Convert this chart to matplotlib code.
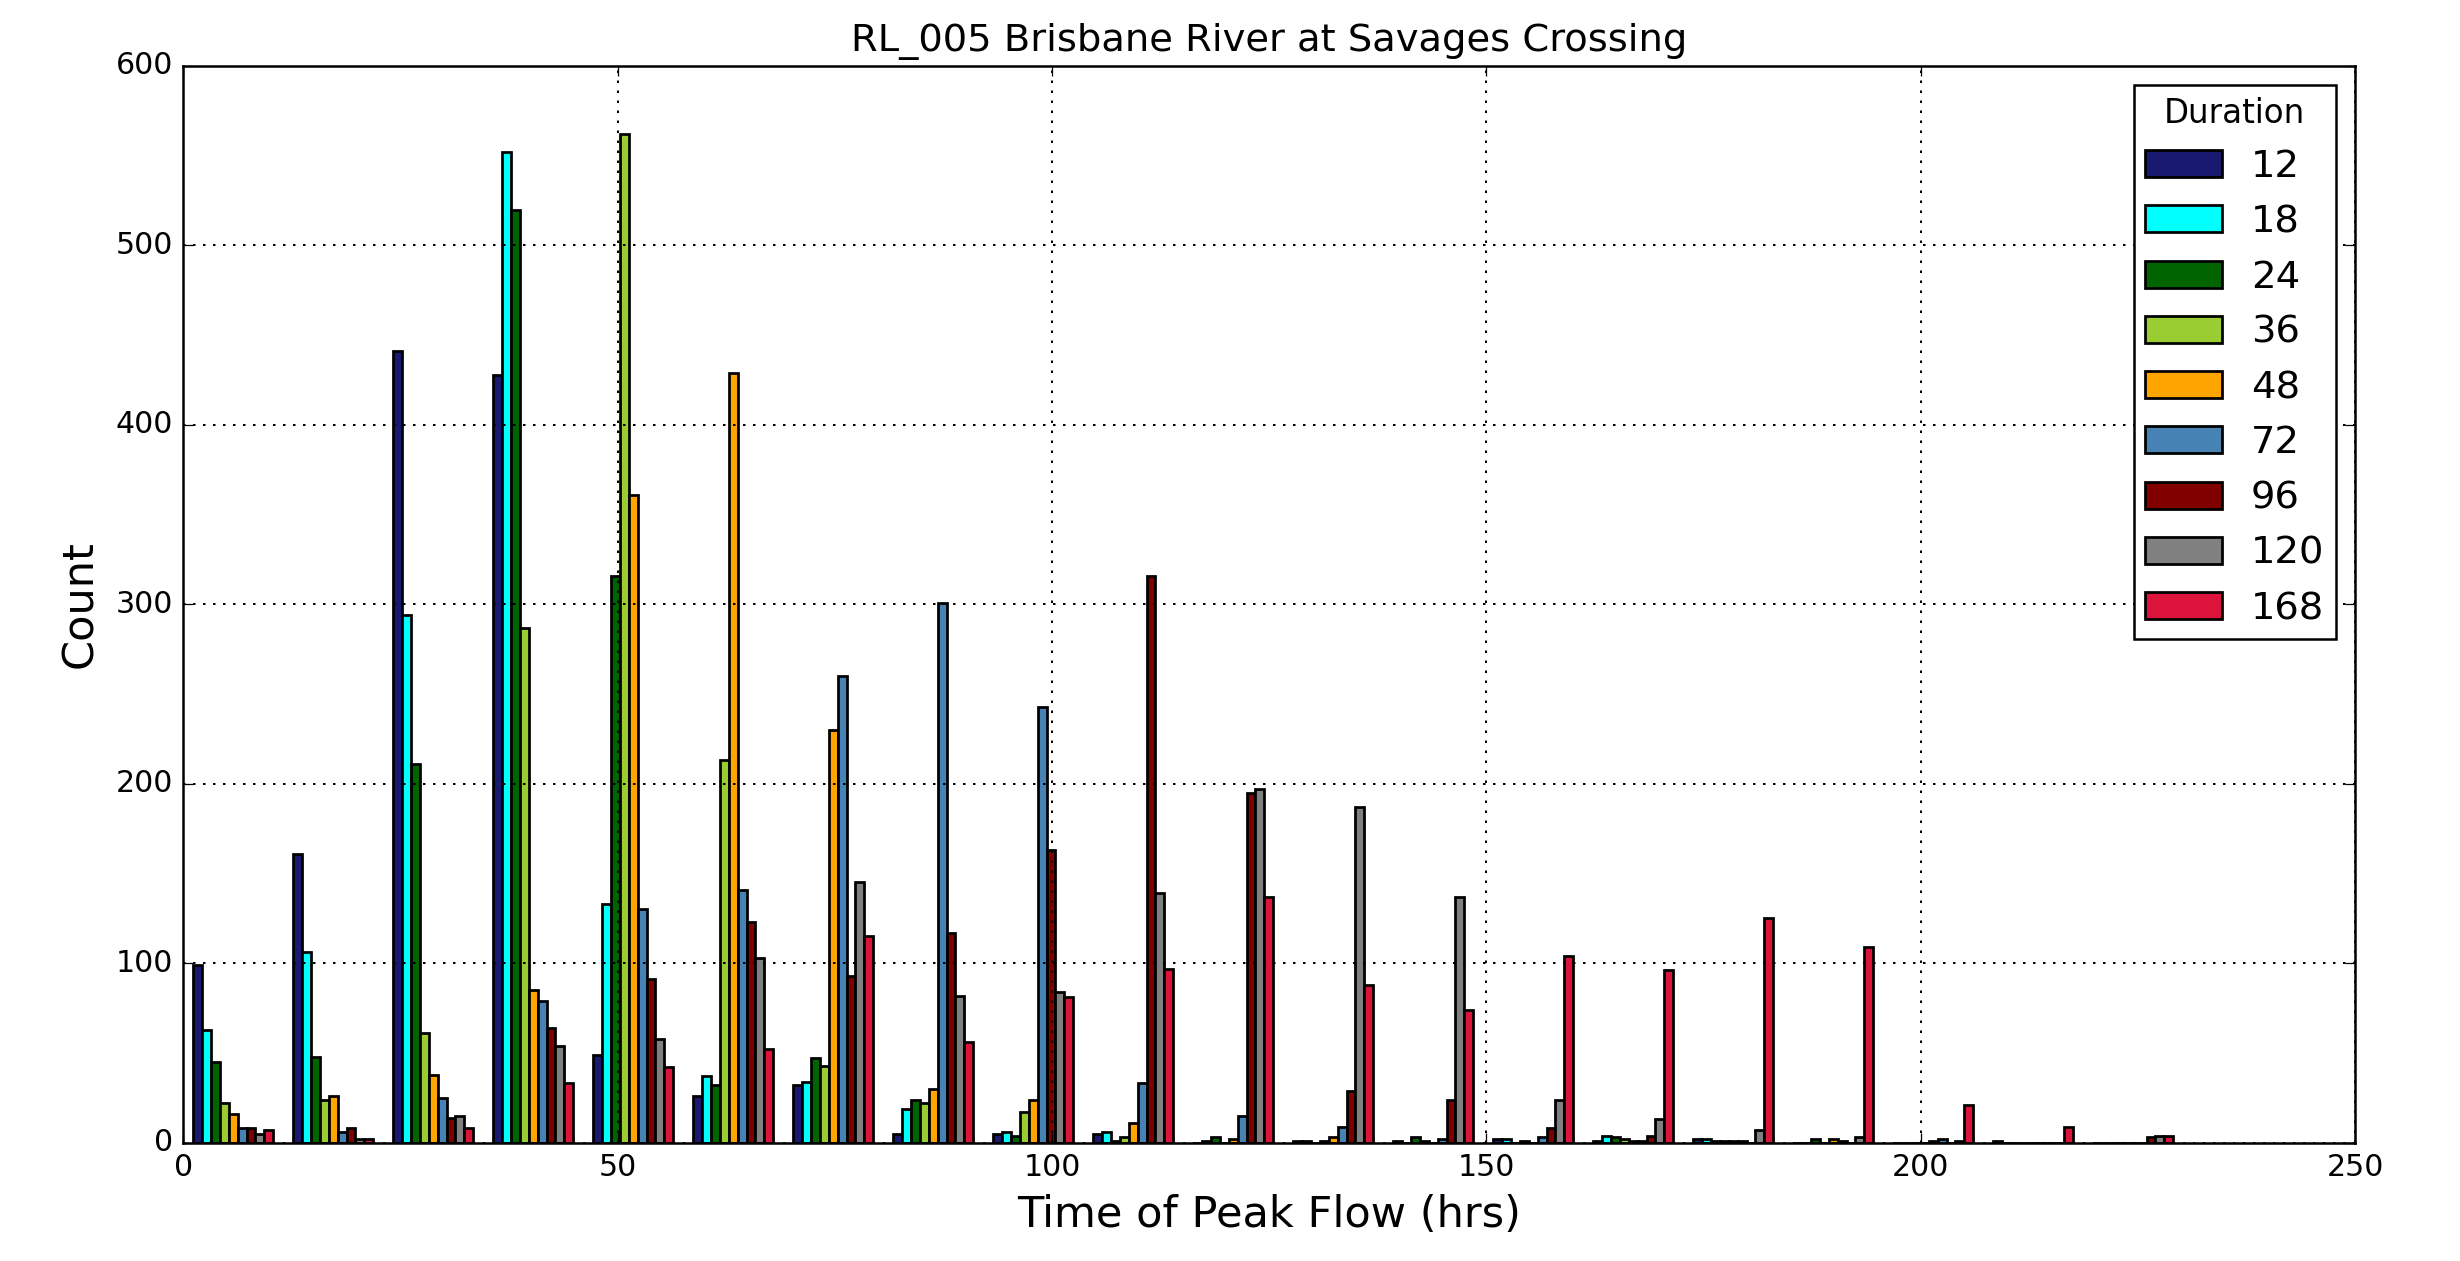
import numpy as np
import matplotlib
matplotlib.use("Agg")
import matplotlib.pyplot as plt

plt.style.use("classic")
plt.rcParams['font.family'] = ['DejaVu Sans']

# Histogram of time of peak flow, 20 equal bins from 0 to ~230 hrs
bin_edges = np.linspace(0.0, 230.2, 21)
durations = ["12", "18", "24", "36", "48", "72", "96", "120", "168"]
colors = ["midnightblue", "cyan", "darkgreen", "yellowgreen", "orange",
          "steelblue", "maroon", "gray", "crimson"]

# counts per bin (20 bins) for each duration
c12  = [99, 161, 441, 428, 49, 26, 32, 5, 5, 5, 0, 1, 1, 2, 1, 2, 0, 0, 1, 0]
c18  = [63, 106, 294, 552, 133, 37, 34, 19, 6, 6, 1, 1, 0, 2, 4, 2, 0, 0, 0, 0]
c24  = [45, 48, 211, 520, 316, 32, 47, 24, 4, 1, 3, 0, 3, 0, 3, 1, 2, 0, 0, 0]
c36  = [22, 24, 61, 287, 562, 213, 43, 22, 17, 3, 0, 1, 1, 1, 2, 1, 0, 0, 0, 0]
c48  = [16, 26, 38, 85, 361, 429, 230, 30, 24, 11, 2, 3, 0, 0, 1, 1, 2, 1, 0, 0]
c72  = [8, 6, 25, 79, 130, 141, 260, 301, 243, 33, 15, 9, 2, 3, 1, 1, 1, 2, 0, 0]
c96  = [8, 8, 14, 64, 91, 123, 93, 117, 163, 316, 195, 29, 24, 8, 4, 0, 0, 0, 0, 3]
c120 = [5, 2, 15, 54, 58, 103, 145, 82, 84, 139, 197, 187, 137, 24, 13, 7, 3, 1, 0, 4]
c168 = [7, 2, 8, 33, 42, 52, 115, 56, 81, 97, 137, 88, 74, 104, 96, 125, 109, 21, 9, 4]

counts = [c12, c18, c24, c36, c48, c72, c96, c120, c168]

centers = 0.5 * (bin_edges[:-1] + bin_edges[1:])

fig = plt.figure(figsize=(2460 / 180, 1261 / 180), dpi=180, facecolor="white")
ax = fig.add_axes([0.0745, 0.0938, 0.9574 - 0.0745, 0.9477 - 0.0938])
ax.set_facecolor("white")

ax.hist([centers] * len(counts), bins=bin_edges, weights=counts,
        color=colors, label=durations, edgecolor="black", linewidth=1.1,
        histtype="bar")

ax.set_xlim(0, 250)
ax.set_ylim(0, 600)
ax.set_xticks(np.arange(0, 251, 50))
ax.set_yticks(np.arange(0, 601, 100))
ax.tick_params(labelsize=12)
ax.grid(True, linestyle=":", color="k", linewidth=0.8)
ax.set_axisbelow(False)

ax.set_title("RL_005 Brisbane River at Savages Crossing", fontsize=15.4, pad=6)
ax.set_xlabel("Time of Peak Flow (hrs)", fontsize=17.28)
ax.set_ylabel("Count", fontsize=17.28, labelpad=6)

leg = ax.legend(title="Duration", loc="upper right", fontsize=15.4,
                title_fontsize=13, handletextpad=0.75, borderpad=0.3)
leg.get_frame().set_edgecolor("black")

fig.savefig("out.png", dpi=180, facecolor="white")
